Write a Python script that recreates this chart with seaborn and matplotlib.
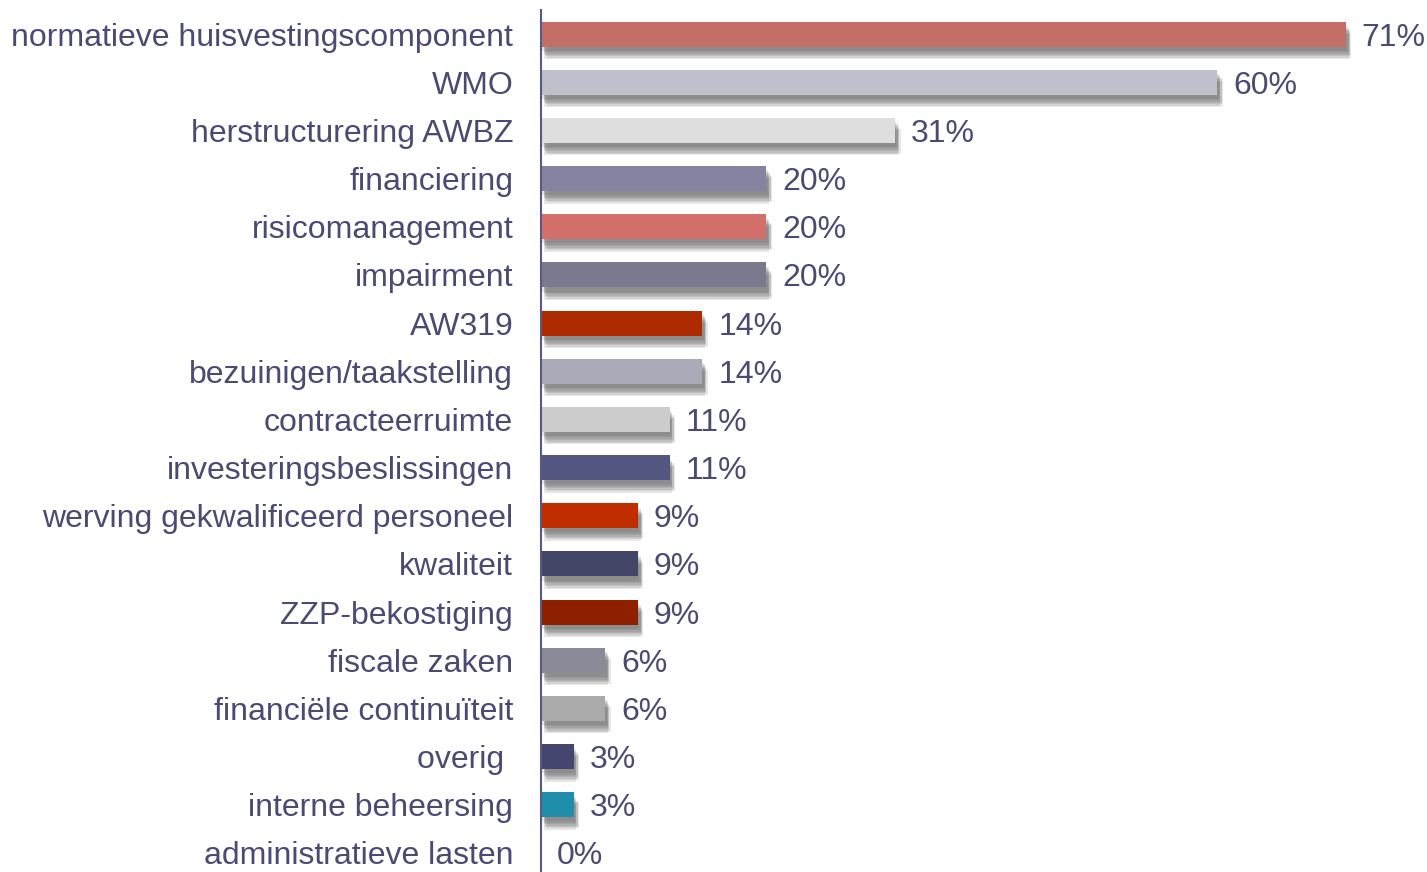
import matplotlib
matplotlib.use("Agg")
import matplotlib.pyplot as plt
import matplotlib.patheffects as pe
import seaborn as sns
import pandas as pd

# categories and shares (percent of respondents)
categories = [
    "normatieve huisvestingscomponent", "WMO", "herstructurering AWBZ",
    "financiering", "risicomanagement", "impairment", "AW319",
    "bezuinigen/taakstelling", "contracteerruimte", "investeringsbeslissingen",
    "werving gekwalificeerd personeel", "kwaliteit", "ZZP-bekostiging",
    "fiscale zaken", "financiële continuïteit", "overig ", "interne beheersing",
    "administratieve lasten",
]
values = [71.4, 60.0, 31.4, 20.0, 20.0, 20.0, 14.3, 14.3, 11.4, 11.4,
          8.6, 8.6, 8.6, 5.7, 5.7, 2.9, 2.9, 0.0]
value_labels = ["71%", "60%", "31%", "20%", "20%", "20%", "14%", "14%", "11%",
                "11%", "9%", "9%", "9%", "6%", "6%", "3%", "3%", "0%"]
bar_colors = ["#c46e68", "#c0c0cc", "#dedede", "#8484a0", "#d4706a", "#7a7a8e",
              "#ae2a00", "#aaaab8", "#cccccc", "#525680", "#c02e00", "#444668",
              "#8e2000", "#8a8a98", "#aaaaaa", "#444670", "#1e8eaa", "#444670"]

text_color = "#4a4a72"

df = pd.DataFrame({"category": categories, "value": values})

sns.set_style("white")
plt.rcParams["font.family"] = ["Liberation Sans", "DejaVu Sans"]

fig = plt.figure(figsize=(14.27, 8.72), dpi=100)
ax = fig.add_axes([541 / 1427, -5 / 872, 886 / 1427, 867 / 872])

sns.barplot(data=df, y="category", x="value", hue="category",
            palette=bar_colors, legend=False, width=0.52, ax=ax,
            orient="h", saturation=1, linewidth=0)

# soft drop shadow under the bars (stacked faint layers)
shadow = [pe.SimplePatchShadow(offset=(dx, dy), shadow_rgbFace="#555555", alpha=0.14)
          for dx, dy in [(1, -3), (2, -4), (2, -5), (3, -6), (3, -7), (4, -8), (2, -9)]]
for patch in ax.patches:
    patch.set_path_effects(shadow + [pe.Normal()])

for i, (v, lab) in enumerate(zip(values, value_labels)):
    ax.annotate(lab, xy=(v, i), xytext=(16, 0), textcoords="offset pixels",
                va="center_baseline", ha="left", fontsize=23, color=text_color)

ax.set_xlim(0, 78.6)
ax.set_ylim(17.5, -0.5)
ax.set_xlabel("")
ax.set_ylabel("")
ax.set_xticks([])
ax.tick_params(axis="y", length=0, pad=20, labelsize=23, labelcolor=text_color)

for side in ["top", "right", "bottom"]:
    ax.spines[side].set_visible(False)
ax.spines["left"].set_color("#5a5a80")
ax.spines["left"].set_linewidth(1.5)

fig.savefig("out.png", dpi=100)
